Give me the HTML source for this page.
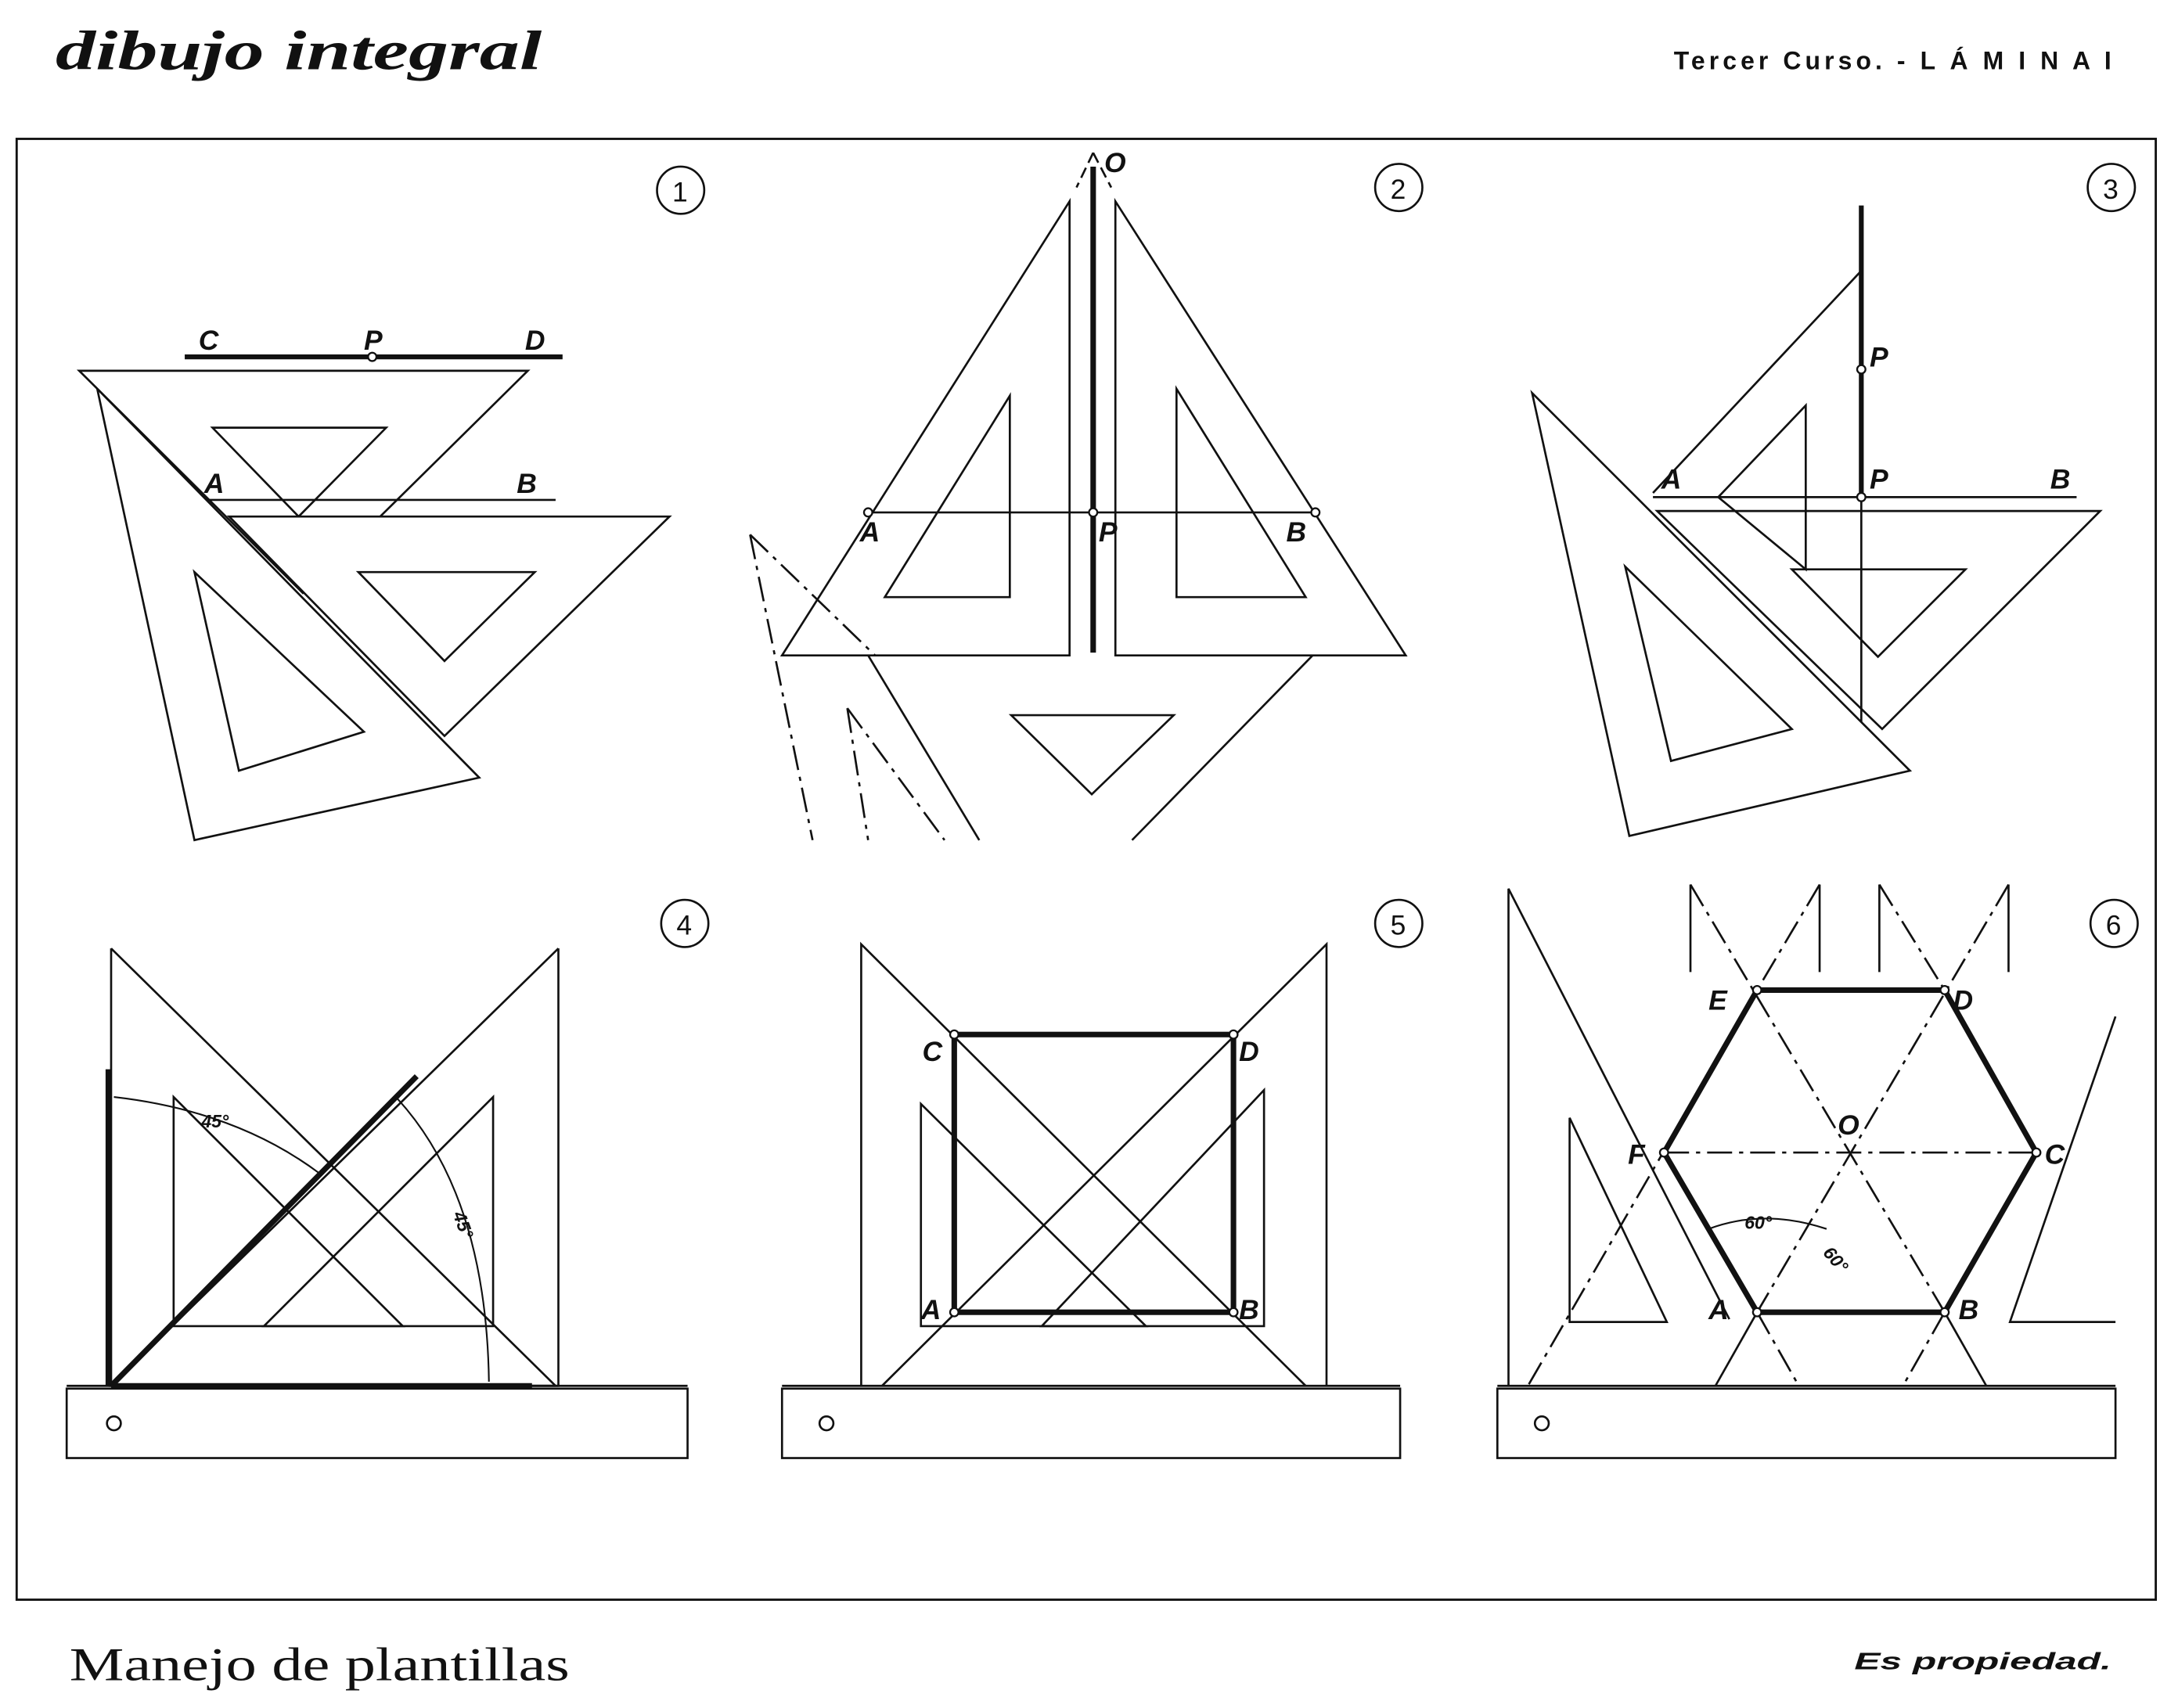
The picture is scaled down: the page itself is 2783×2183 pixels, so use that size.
<!DOCTYPE html>
<html><head><meta charset="utf-8"><style>
html,body{margin:0;padding:0;background:#fff}
svg{display:block}
text{font-family:"Liberation Sans",sans-serif;font-style:italic;font-weight:bold;fill:#111}
</style></head><body>
<svg width="2783" height="2183" viewBox="0 0 1568 1230" preserveAspectRatio="none" xmlns="http://www.w3.org/2000/svg">
<rect width="1568" height="1230" fill="#fff"/>
<text x="40" y="50" font-size="40" textLength="350" lengthAdjust="spacingAndGlyphs" style="font-family:'Liberation Serif',serif">dibujo  integral</text>
<text x="1205" y="50" font-size="18" textLength="315" lengthAdjust="spacing" style="font-style:normal">Tercer Curso. - L Á M I N A   I</text>
<text x="50" y="1210" font-size="34" textLength="360" lengthAdjust="spacingAndGlyphs" style="font-family:'Liberation Serif',serif;font-style:normal;font-weight:normal">Manejo de plantillas</text>
<text x="1335" y="1202" font-size="17" textLength="185" lengthAdjust="spacingAndGlyphs">Es propiedad.</text>
<rect x="12" y="100" width="1540" height="1052" fill="none" stroke="#111" stroke-width="1.6"/>
<g fill="none" stroke="#111" stroke-width="1.5">
<circle cx="490" cy="137" r="17"/><circle cx="1007" cy="135" r="17"/><circle cx="1520" cy="135" r="17"/>
<circle cx="493" cy="665" r="17"/><circle cx="1007" cy="665" r="17"/><circle cx="1522" cy="665" r="17"/>
<line x1="133" y1="257" x2="405" y2="257" stroke-width="3.5"/>
<line x1="133" y1="360" x2="400" y2="360"/>
<polygon points="57,267 380,267 218,427"/>
<polygon points="153,308 278,308 215,372"/>
<polygon points="70,280 140,605 345,560" fill="#fff"/>
<polygon points="140,412 172,555 262,527"/>
<polygon points="165,372 482,372 320,530" fill="#fff"/>
<polygon points="258,412 385,412 320,476"/>
<polygon points="770,145 770,472 563,472"/>
<polygon points="727,285 727,430 637,430"/>
<polygon points="803,145 1012,472 803,472"/>
<polygon points="847,280 940,430 847,430"/>
<line x1="787" y1="120" x2="787" y2="470" stroke-width="4"/>
<line x1="787" y1="110" x2="775" y2="135" stroke-dasharray="8,4"/>
<line x1="787" y1="110" x2="800" y2="135" stroke-dasharray="8,4"/>
<line x1="625" y1="369" x2="947" y2="369"/>
<line x1="625" y1="472" x2="705" y2="605"/>
<line x1="945" y1="472" x2="815" y2="605"/>
<polygon points="728,515 845,515 786,572"/>
<g stroke-dasharray="18,5,3,5">
<line x1="540" y1="385" x2="585" y2="605"/><line x1="540" y1="385" x2="630" y2="472"/>
<line x1="610" y1="510" x2="625" y2="605"/><line x1="610" y1="510" x2="680" y2="605"/>
</g>
<line x1="1340" y1="148" x2="1340" y2="360" stroke-width="3.5"/>
<line x1="1340" y1="360" x2="1340" y2="530"/>
<line x1="1190" y1="358" x2="1495" y2="358"/>
<line x1="1340" y1="195" x2="1190" y2="355"/>
<polygon points="1300,292 1300,410 1237,358"/>
<polygon points="1193,368 1512,368 1355,525"/>
<polygon points="1290,410 1415,410 1352,473"/>
<polygon points="1103,283 1173,602 1375,555" fill="#fff"/>
<polygon points="1170,408 1203,548 1290,525"/>
<rect x="48" y="1000" width="447" height="50"/>
<circle cx="82" cy="1025" r="5"/>
<line x1="48" y1="998" x2="495" y2="998"/>
<polyline points="80,683 80,998 400,998 80,683"/>
<polyline points="402,683 402,998 80,998 402,683"/>
<polygon points="125,790 125,955 290,955"/>
<polygon points="355,790 355,955 190,955"/>
<line x1="78" y1="770" x2="78" y2="998" stroke-width="4"/>
<line x1="80" y1="998" x2="300" y2="775" stroke-width="4"/>
<line x1="80" y1="998" x2="383" y2="998" stroke-width="4"/>
<path d="M82,790 Q170,800 230,845" stroke-width="1.2"/>
<path d="M285,790 Q350,860 352,995" stroke-width="1.2"/>
<rect x="563" y="1000" width="445" height="50"/>
<circle cx="595" cy="1025" r="5"/>
<line x1="563" y1="998" x2="1008" y2="998"/>
<polyline points="620,998 620,680 940,998"/>
<polyline points="955,998 955,680 635,998"/>
<polygon points="663,795 663,955 825,955"/>
<polygon points="910,785 910,955 750,955"/>
<rect x="687" y="745" width="201" height="200" stroke-width="4"/>
<rect x="1078" y="1000" width="445" height="50"/>
<circle cx="1110" cy="1025" r="5"/>
<line x1="1078" y1="998" x2="1523" y2="998"/>
<polyline points="1086,998 1086,640 1245,950"/>
<polygon points="1130,805 1130,952 1200,952"/>
<polyline points="1523,732 1447,952 1523,952"/>
<polygon points="1265,713 1400,713 1466,830 1400,945 1265,945 1198,830" stroke-width="4"/>
<g stroke-dasharray="18,5,3,5">
<line x1="1198" y1="830" x2="1466" y2="830"/>
<line x1="1217" y1="637" x2="1400" y2="945"/><line x1="1310" y1="637" x2="1265" y2="713"/>
<line x1="1446" y1="637" x2="1265" y2="945"/><line x1="1353" y1="637" x2="1400" y2="713"/>
<line x1="1265" y1="713" x2="1100" y2="998"/><line x1="1400" y1="945" x2="1370" y2="998"/>
<line x1="1265" y1="945" x2="1295" y2="998"/><line x1="1400" y1="713" x2="1466" y2="830"/>
</g>
<line x1="1217" y1="637" x2="1217" y2="700"/><line x1="1310" y1="637" x2="1310" y2="700"/>
<line x1="1353" y1="637" x2="1353" y2="700"/><line x1="1446" y1="637" x2="1446" y2="700"/>
<line x1="1265" y1="945" x2="1235" y2="998"/><line x1="1400" y1="945" x2="1430" y2="998"/>
<path d="M1230,885 Q1270,870 1315,885" stroke-width="1.2"/>
</g>
<g fill="#fff" stroke="#111" stroke-width="1.3">
<circle cx="268" cy="257" r="3"/><circle cx="625" cy="369" r="3"/><circle cx="787" cy="369" r="3"/><circle cx="947" cy="369" r="3"/>
<circle cx="1340" cy="266" r="3"/><circle cx="1340" cy="358" r="3"/>
<circle cx="687" cy="745" r="3"/><circle cx="888" cy="745" r="3"/><circle cx="687" cy="945" r="3"/><circle cx="888" cy="945" r="3"/>
<circle cx="1265" cy="713" r="3"/><circle cx="1400" cy="713" r="3"/><circle cx="1466" cy="830" r="3"/><circle cx="1400" cy="945" r="3"/><circle cx="1265" cy="945" r="3"/><circle cx="1198" cy="830" r="3"/>
</g>
<g font-size="20">
<text x="484" y="145" style="font-style:normal;font-weight:normal">1</text><text x="1001" y="143" style="font-style:normal;font-weight:normal">2</text><text x="1514" y="143" style="font-style:normal;font-weight:normal">3</text>
<text x="487" y="673" style="font-style:normal;font-weight:normal">4</text><text x="1001" y="673" style="font-style:normal;font-weight:normal">5</text><text x="1516" y="673" style="font-style:normal;font-weight:normal">6</text>
<text x="143" y="252">C</text><text x="262" y="252">P</text><text x="378" y="252">D</text>
<text x="147" y="355">A</text><text x="372" y="355">B</text>
<text x="795" y="124">O</text><text x="619" y="390">A</text><text x="791" y="390">P</text><text x="926" y="390">B</text>
<text x="1346" y="264">P</text><text x="1196" y="352">A</text><text x="1346" y="352">P</text><text x="1476" y="352">B</text>
<text x="664" y="764">C</text><text x="892" y="764">D</text><text x="663" y="950">A</text><text x="892" y="950">B</text>
<text x="1230" y="727">E</text><text x="1406" y="727">D</text><text x="1472" y="838">C</text><text x="1172" y="838">F</text>
<text x="1323" y="817">O</text><text x="1230" y="950">A</text><text x="1410" y="950">B</text>
</g>
<g font-size="13" style="font-weight:normal">
<text x="145" y="812">45°</text><text x="322" y="880" transform="rotate(70 328 880)">45°</text>
<text x="1256" y="885">60°</text><text x="1312" y="908" transform="rotate(50 1318 905)">60°</text>
</g>
</svg>
</body></html>
